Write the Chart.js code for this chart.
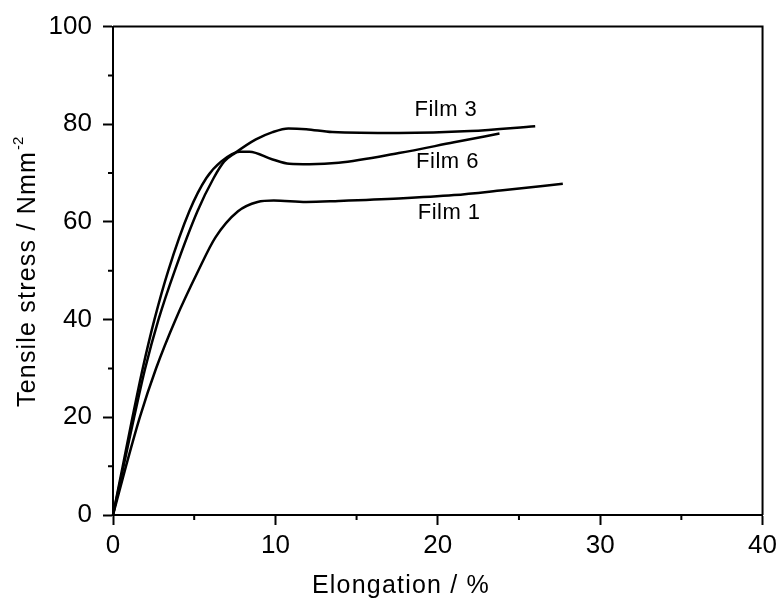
<!DOCTYPE html>
<html>
<head>
<meta charset="utf-8">
<script src="https://cdn.jsdelivr.net/npm/chart.js@4"></script>
<style>
  html, body { margin: 0; padding: 0; background: #fff; }
  #wrap { width: 782px; height: 601px; }
</style>
</head>
<body>
<div id="wrap"><canvas id="chart" width="782" height="601"></canvas></div>
<script>
// Elongation (%) and tensile stress (N/mm2)
const film1X = [0, 0.8, 1.65, 2.65, 3.85, 5.25, 6.3, 7.7, 8.9, 9.9, 11.9, 13.9, 17.6, 21, 24, 27.7];
const film1Y = [0, 10, 20, 30, 40, 50, 56.8, 62.2, 64.1, 64.4, 64.1, 64.3, 64.8, 65.5, 66.5, 67.8];
const film3X = [0, 0.65, 1.3, 1.98, 2.8, 3.8, 5.2, 6.2, 6.85, 7.55, 8.8, 9.83, 10.8, 11.9, 13.5, 17.6, 22, 26.0];
const film3Y = [0, 10, 20, 30, 40, 50, 62.2, 69, 72.4, 74.2, 76.9, 78.4, 79.15, 79.0, 78.4, 78.2, 78.6, 79.6];
const film6X = [0, 0.6, 1.2, 1.83, 2.55, 3.4, 4.7, 5.75, 6.67, 7.8, 8.4, 9.83, 10.86, 12.1, 13.9, 17.6, 21, 23.8];
const film6Y = [0, 10, 20, 30, 40, 50, 62.2, 69, 72.4, 74.4, 74.4, 72.8, 71.9, 71.8, 72.1, 74.1, 76.3, 78.1];

const seriesNames = ['Film 1', 'Film 3', 'Film 6'];
// label anchors in data units (x = elongation, y = stress)
const labelX = [20.7, 20.5, 20.6];
const labelY = [61.8, 83.0, 72.2];

const xMinorTicks = [5, 15, 25, 35];
const yMinorTicks = [10, 30, 50, 70, 90];

const toPoints = (xs, ys) => xs.map((x, i) => ({ x, y: ys[i] }));

const lineStyle = {
  borderColor: '#000',
  borderWidth: 2.5,
  pointRadius: 0,
  fill: false,
  cubicInterpolationMode: 'monotone',
  clip: 4
};

// frame, minor ticks, curve labels and axis titles
const decorations = {
  id: 'decorations',
  afterDraw(chart) {
    const { ctx, chartArea: a, scales: { x, y } } = chart;
    ctx.save();
    ctx.strokeStyle = '#000';
    ctx.lineWidth = 2;
    ctx.beginPath();
    ctx.moveTo(a.left, a.top);
    ctx.lineTo(a.right, a.top);
    ctx.lineTo(a.right, a.bottom);
    ctx.stroke();

    ctx.beginPath();
    xMinorTicks.forEach(v => {
      const px = x.getPixelForValue(v);
      ctx.moveTo(px, a.bottom);
      ctx.lineTo(px, a.bottom + 5);
    });
    yMinorTicks.forEach(v => {
      const py = y.getPixelForValue(v);
      ctx.moveTo(a.left, py);
      ctx.lineTo(a.left - 5, py);
    });
    ctx.stroke();

    ctx.fillStyle = '#000';
    ctx.font = '22px "Liberation Sans", Arial, sans-serif';
    ctx.letterSpacing = '0.5px';
    ctx.textAlign = 'center';
    ctx.textBaseline = 'middle';
    seriesNames.forEach((name, i) => {
      ctx.fillText(name, x.getPixelForValue(labelX[i]), y.getPixelForValue(labelY[i]));
    });

    // x title
    ctx.font = '25px "Liberation Sans", Arial, sans-serif';
    ctx.letterSpacing = '1.2px';
    ctx.textBaseline = 'alphabetic';
    ctx.fillText('Elongation / %', 401, 593);

    // y title with superscript
    ctx.translate(35, 407);
    ctx.rotate(-Math.PI / 2);
    ctx.textAlign = 'left';
    const main = 'Tensile stress / Nmm';
    ctx.fillText(main, 0, 0);
    const w = ctx.measureText(main).width;
    ctx.font = '15px "Liberation Sans", Arial, sans-serif';
    ctx.letterSpacing = '0px';
    ctx.fillText('-2', w + 1, -12);
    ctx.restore();
  }
};

new Chart(document.getElementById('chart'), {
  type: 'line',
  data: {
    datasets: [
      { label: 'Film 1', data: toPoints(film1X, film1Y), ...lineStyle },
      { label: 'Film 3', data: toPoints(film3X, film3Y), ...lineStyle },
      { label: 'Film 6', data: toPoints(film6X, film6Y), ...lineStyle }
    ]
  },
  options: {
    responsive: false,
    animation: false,
    layout: { padding: { left: 0, right: 17, top: 25, bottom: 0 } },
    plugins: {
      legend: { display: false },
      tooltip: { enabled: false },
      title: { display: false }
    },
    scales: {
      x: {
        type: 'linear',
        min: 0,
        max: 40,
        afterFit: scale => { scale.height = 86; },
        ticks: {
          stepSize: 10,
          color: '#000',
          padding: 5,
          maxRotation: 0,
          font: { family: '"Liberation Sans", Arial, sans-serif', size: 26 }
        },
        grid: {
          drawOnChartArea: false,
          drawTicks: true,
          tickLength: 10,
          tickWidth: 2,
          tickColor: '#000'
        },
        border: { display: true, color: '#000', width: 2 }
      },
      y: {
        type: 'linear',
        min: 0,
        max: 100,
        afterFit: scale => { scale.width = 113; },
        ticks: {
          stepSize: 20,
          color: '#000',
          padding: 11,
          font: { family: '"Liberation Sans", Arial, sans-serif', size: 26 }
        },
        grid: {
          drawOnChartArea: false,
          drawTicks: true,
          tickLength: 10,
          tickWidth: 2,
          tickColor: '#000'
        },
        border: { display: true, color: '#000', width: 2 }
      }
    }
  },
  plugins: [decorations]
});
</script>
</body>
</html>
